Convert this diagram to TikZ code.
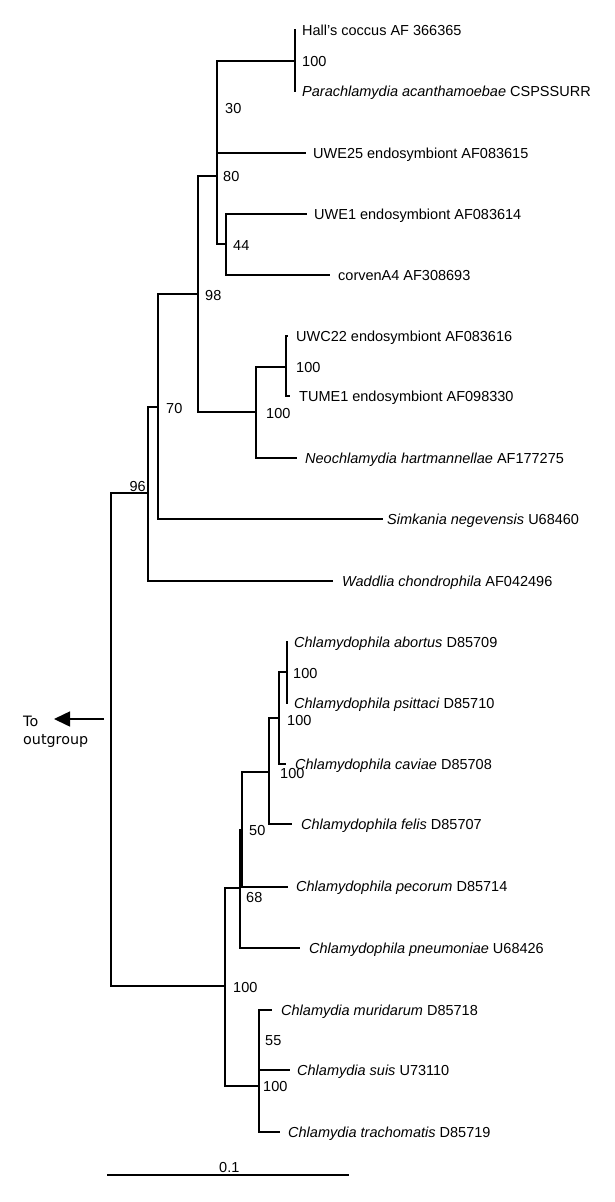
\documentclass[tikz,border=0pt]{standalone}
\usepackage{fontspec}
\setmainfont{Liberation Sans}
\newfontfamily\dejavu{DejaVu Sans}
\usetikzlibrary{arrows.meta}
\begin{document}
\begin{tikzpicture}[x=1pt,y=-1pt,
  br/.style={line width=1.4pt},
  leaf/.style={anchor=base west, inner sep=0pt, font=\fontsize{14.5}{16}\selectfont},
  bs/.style={anchor=base west, inner sep=0pt, font=\fontsize{14.5}{16}\selectfont},
]
\useasboundingbox (0,0) rectangle (615,1202);
% leaf tips
\coordinate (hall) at (296,30);
\coordinate (para) at (296,91);
\coordinate (uwe25) at (306,153);
\coordinate (uwe1) at (307,214);
\coordinate (corven) at (330,275);
\coordinate (uwc22) at (288,336);
\coordinate (tume1) at (290,396);
\coordinate (neo) at (297,458);
\coordinate (simk) at (383,519);
\coordinate (wadd) at (333,581);
\coordinate (abort) at (288,642);
\coordinate (psitt) at (288,703);
\coordinate (cavi) at (286,764);
\coordinate (felis) at (292,824);
\coordinate (pecor) at (288,887);
\coordinate (pneum) at (300,948);
\coordinate (murid) at (272,1010);
\coordinate (suis) at (290,1070);
\coordinate (trach) at (280,1132);
% internal nodes
\coordinate (root) at (111,719);
\coordinate (n96) at (148,493);
\coordinate (n70) at (158,407);
\coordinate (n98) at (198,294);
\coordinate (n80) at (217,176);
\coordinate (n30) at (217,107);
\coordinate (nhall) at (295,61);
\coordinate (n44) at (226,244);
\coordinate (nb) at (256,412);
\coordinate (nc) at (286,367);
\coordinate (nbot) at (225,986);
\coordinate (n68) at (240,888);
\coordinate (n50) at (242,830);
\coordinate (nf) at (269,772);
\coordinate (ng) at (279,718);
\coordinate (nh) at (287,672);
\coordinate (ne) at (259,1086);
\coordinate (n55) at (259,1040);
% branches
\draw[br] (root) |- (n96);
\draw[br] (root) |- (nbot);
\draw[br] (n96) |- (n70);
\draw[br] (n96) |- (wadd);
\draw[br] (n70) |- (n98);
\draw[br] (n70) |- (simk);
\draw[br] (n98) |- (n80);
\draw[br] (n98) |- (nb);
\draw[br] (n80) |- (n30);
\draw[br] (n80) |- (n44);
\draw[br] (n30) |- (nhall);
\draw[br] (n30) |- (uwe25);
\draw[br] (nhall) |- (hall);
\draw[br] (nhall) |- (para);
\draw[br] (n44) |- (uwe1);
\draw[br] (n44) |- (corven);
\draw[br] (nb) |- (nc);
\draw[br] (nb) |- (neo);
\draw[br] (nc) |- (uwc22);
\draw[br] (nc) |- (tume1);
\draw[br] (nbot) |- (n68);
\draw[br] (nbot) |- (ne);
\draw[br] (n68) |- (n50);
\draw[br] (n68) |- (pneum);
\draw[br] (n50) |- (nf);
\draw[br] (n50) |- (pecor);
\draw[br] (nf) |- (ng);
\draw[br] (nf) |- (felis);
\draw[br] (ng) |- (nh);
\draw[br] (ng) |- (cavi);
\draw[br] (nh) |- (abort);
\draw[br] (nh) |- (psitt);
\draw[br] (ne) |- (n55);
\draw[br] (ne) |- (trach);
\draw[br] (n55) |- (murid);
\draw[br] (n55) |- (suis);
% leaf labels
\node[leaf] (thall) at (302,35) {Hall's coccus AF 366365};
\node[leaf] (tpara) at (302,96) {\textit{Parachlamydia acanthamoebae} CSPSSURR};
\node[leaf] (tuwe25) at (313,158) {UWE25 endosymbiont AF083615};
\node[leaf] (tuwe1) at (314,219) {UWE1 endosymbiont AF083614};
\node[leaf] (tcorven) at (338,280) {corvenA4 AF308693};
\node[leaf] (tuwc22) at (296,341) {UWC22 endosymbiont AF083616};
\node[leaf] (ttume1) at (299,401) {TUME1 endosymbiont AF098330};
\node[leaf] (tneo) at (305,463) {\textit{Neochlamydia hartmannellae} AF177275};
\node[leaf] (tsimk) at (387,524) {\textit{Simkania negevensis} U68460};
\node[leaf] (twadd) at (342,586) {\textit{Waddlia chondrophila} AF042496};
\node[leaf] (tabort) at (294,647) {\textit{Chlamydophila abortus} D85709};
\node[leaf] (tpsitt) at (294,708) {\textit{Chlamydophila psittaci} D85710};
\node[leaf] (tcavi) at (295,769) {\textit{Chlamydophila caviae} D85708};
\node[leaf] (tfelis) at (301,829) {\textit{Chlamydophila felis} D85707};
\node[leaf] (tpecor) at (296,891) {\textit{Chlamydophila pecorum} D85714};
\node[leaf] (tpneum) at (309,953) {\textit{Chlamydophila pneumoniae} U68426};
\node[leaf] (tmurid) at (281,1015) {\textit{Chlamydia muridarum} D85718};
\node[leaf] (tsuis) at (297,1075) {\textit{Chlamydia suis} U73110};
\node[leaf] (ttrach) at (288,1137) {\textit{Chlamydia trachomatis} D85719};
% bootstrap values
\node[bs] (bhall) at (302,66) {100};
\node[bs] (b30) at (225,113) {30};
\node[bs] (b80) at (223,181) {80};
\node[bs] (b44) at (233,250) {44};
\node[bs] (b98) at (205,300) {98};
\node[bs] (bc) at (296,372) {100};
\node[bs] (bb) at (266,418) {100};
\node[bs] (b70) at (166,413) {70};
\node[bs, anchor=base east] (b96) at (146,491) {96};
\node[bs] (bh) at (293,678) {100};
\node[bs] (bg) at (287,725) {100};
\node[bs] (bf) at (280,778) {100};
\node[bs] (b50) at (249,835) {50};
\node[bs] (b68) at (246,902) {68};
\node[bs] (bbot) at (233,992) {100};
\node[bs] (b55) at (265,1045) {55};
\node[bs] (be) at (263,1091) {100};
% outgroup arrow
\coordinate (arrs) at (104,719);
\coordinate (arre) at (54,719);
\draw[line width=1.5pt, -{Triangle[length=16pt,width=15pt]}] (arrs) -- (arre);
\node[anchor=base west, inner sep=0pt, align=left, font=\dejavu\fontsize{14.3}{18}\selectfont] (tout) at (23,744) {To\\outgroup};
% scale bar
\coordinate (sbl) at (107,1175);
\coordinate (sbr) at (349,1175);
\draw[line width=1.4pt] (sbl) -- (sbr);
\node[bs] (tsb) at (219,1172) {0.1};
\end{tikzpicture}
\end{document}
